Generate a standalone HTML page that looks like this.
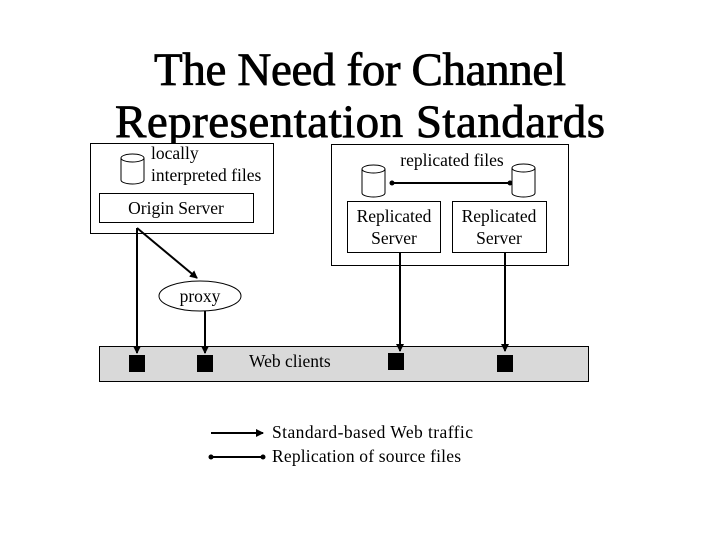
<!DOCTYPE html>
<html><head><style>
body{margin:0;width:720px;height:540px;background:#fff;overflow:hidden}
</style></head><body>
<svg width="720" height="540" xmlns="http://www.w3.org/2000/svg" font-family="Liberation Serif, serif">
<defs>
<marker id="a" markerWidth="8" markerHeight="8" refX="7" refY="4" orient="auto" markerUnits="userSpaceOnUse"><path d="M0,0 L8,4 L0,8 z" fill="#000"/></marker>
<marker id="d" markerWidth="6" markerHeight="6" refX="3" refY="3" orient="auto" markerUnits="userSpaceOnUse"><circle cx="3" cy="3" r="2.5" fill="#000"/></marker>
</defs>
<text x="360" y="85" font-size="47" stroke="#000" stroke-width="0.8" text-anchor="middle" textLength="412">The Need for Channel</text>
<text x="360" y="137" font-size="47" stroke="#000" stroke-width="0.8" text-anchor="middle" textLength="490">Representation Standards</text>
<rect x="90.5" y="143.5" width="183" height="90" fill="#fff" stroke="#000"/>
<rect x="99.5" y="193.5" width="154" height="29" fill="#fff" stroke="#000"/>
<text x="176" y="214" font-size="17.5" text-anchor="middle">Origin Server</text>
<text x="151" y="159" font-size="17.5">locally</text>
<text x="151" y="181" font-size="17.5">interpreted files</text>
<g fill="#fff" stroke="#000">
<path d="M121,158 v22 a11.5,4 0 0 0 23,0 v-22"/><ellipse cx="132.5" cy="158" rx="11.5" ry="4"/>
<path d="M362,169 v24 a11.5,4 0 0 0 23,0 v-24"/><ellipse cx="373.5" cy="169" rx="11.5" ry="4"/>
<path d="M512,168 v25 a11.5,4 0 0 0 23,0 v-25"/><ellipse cx="523.5" cy="168" rx="11.5" ry="4"/>
</g>
<rect x="331.5" y="144.5" width="237" height="121" fill="none" stroke="#000"/>
<text x="452" y="166" font-size="17.5" text-anchor="middle">replicated files</text>
<line x1="392" y1="183" x2="510" y2="183" stroke="#000" stroke-width="2" marker-start="url(#d)" marker-end="url(#d)"/>
<rect x="347.5" y="201.5" width="93" height="51" fill="#fff" stroke="#000"/>
<rect x="452.5" y="201.5" width="94" height="51" fill="#fff" stroke="#000"/>
<text x="394" y="222" font-size="17.5" text-anchor="middle">Replicated</text>
<text x="394" y="244" font-size="17.5" text-anchor="middle">Server</text>
<text x="499" y="222" font-size="17.5" text-anchor="middle">Replicated</text>
<text x="499" y="244" font-size="17.5" text-anchor="middle">Server</text>
<rect x="99.5" y="346.5" width="489" height="35" fill="#d9d9d9" stroke="#000"/>
<text x="249" y="367" font-size="17.5">Web clients</text>
<g fill="#000">
<rect x="129" y="355" width="16" height="17"/>
<rect x="197" y="355" width="16" height="17"/>
<rect x="388" y="353" width="16" height="17"/>
<rect x="497" y="355" width="16" height="17"/>
</g>
<ellipse cx="200" cy="296" rx="41" ry="15" fill="#fff" stroke="#000"/>
<text x="200" y="302" font-size="17.5" text-anchor="middle">proxy</text>
<g stroke="#000" stroke-width="2" fill="none" marker-end="url(#a)">
<line x1="137" y1="228" x2="137" y2="353"/>
<line x1="137" y1="228" x2="197" y2="278"/>
<line x1="205" y1="311" x2="205" y2="353"/>
<line x1="400" y1="253" x2="400" y2="351"/>
<line x1="505" y1="253" x2="505" y2="351"/>
<line x1="211" y1="433" x2="263" y2="433"/>
</g>
<line x1="211" y1="457" x2="263" y2="457" stroke="#000" stroke-width="2" marker-start="url(#d)" marker-end="url(#d)"/>
<text x="272" y="438" font-size="17.5" textLength="201">Standard-based  Web traffic</text>
<text x="272" y="462" font-size="17.5" textLength="189">Replication of source files</text>
</svg>
</body></html>
